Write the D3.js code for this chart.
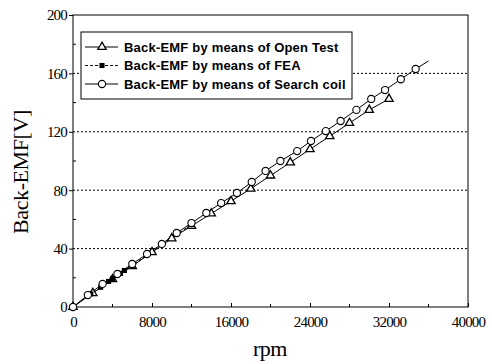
<!DOCTYPE html>
<html><head><meta charset="utf-8">
<script src="https://cdn.jsdelivr.net/npm/d3@7"></script>
<style>html,body{margin:0;padding:0;background:#fff;}svg{display:block;}</style>
</head><body>
<script>
const xTicks = [0, 8000, 16000, 24000, 32000, 40000];
const yTicks = [0, 40, 80, 120, 160, 200];
const gridValues = [40, 80, 120, 160];
const seriesNames = ["Back-EMF by means of Open Test", "Back-EMF by means of FEA", "Back-EMF by means of Search coil"];
const openTest = [[0,0],[2000,9.5],[4000,19],[6000,28],[8000,37.5],[10000,47],[12000,55.5],[14000,64],[16000,72.5],[18000,81],[20000,90],[22000,99],[24000,108],[26000,117],[28000,126],[30000,135],[32000,142.5]];
const fea = [[0,0],[1800,9],[2800,13.5],[3600,17.5],[4000,19.5],[4800,23],[5200,25],[6000,28.5],[12000,56.5]];
const searchCoil = [[0,0],[1500,8.2],[3000,15.8],[4500,22.6],[6000,29.5],[7500,36.3],[9000,43.2],[10500,50.7],[12000,57.5],[13500,64.4],[15000,71.2],[16600,78.1],[18100,85.6],[19500,93.2],[21000,100],[22700,106.8],[24100,113.7],[25600,120.5],[27100,127.4],[28700,135],[30200,142.5],[31600,148.6],[33200,156],[34700,163]];
const searchCoilLineEnd = [36000,168.5];

const W = 492, H = 364;
const svg = d3.select("body").append("svg").attr("width", W).attr("height", H);
const x = d3.scaleLinear().domain([0, 40000]).range([73, 468]);
const y = d3.scaleLinear().domain([0, 200]).range([307, 15]);
const serif = "'Liberation Serif','Times New Roman',serif";
const sans = "'Liberation Sans',Arial,sans-serif";

// grid
svg.append("g").selectAll("line").data(gridValues).join("line")
  .attr("x1", x(0)).attr("x2", x(40000)).attr("y1", d=>y(d)).attr("y2", d=>y(d))
  .attr("stroke", "#000").attr("stroke-width", 1).attr("stroke-dasharray", "2,2");

// frame
svg.append("rect").attr("x", x(0)).attr("y", y(200)).attr("width", x(40000)-x(0)).attr("height", y(0)-y(200))
  .attr("fill", "none").attr("stroke", "#000").attr("stroke-width", 1);

// axes
const xAxis = d3.axisBottom(x).tickValues(xTicks).tickSize(-4).tickPadding(9).tickFormat(d3.format("d"));
const gx = svg.append("g").attr("transform", `translate(0,${y(0)})`).call(xAxis);
const yAxis = d3.axisLeft(y).tickValues(yTicks).tickSize(4).tickPadding(2).tickFormat(d3.format("d"));
const gy = svg.append("g").attr("transform", `translate(${x(0)},0)`).call(yAxis);
[gx, gy].forEach(g => {
  g.select(".domain").remove();
  g.selectAll("line").attr("stroke", "#000");
  g.selectAll("text").attr("font-family", serif).attr("font-size", 15).attr("fill", "#000").attr("letter-spacing", "-0.8px");
});
// minor ticks
const xMinor = d3.range(4000, 40000, 8000);
svg.append("g").selectAll("line").data(xMinor).join("line")
  .attr("x1", d=>x(d)).attr("x2", d=>x(d)).attr("y1", y(0)).attr("y2", y(0)-3).attr("stroke", "#000");
const yMinor = d3.range(20, 200, 40);
svg.append("g").selectAll("line").data(yMinor).join("line")
  .attr("x1", x(0)).attr("x2", x(0)+3).attr("y1", d=>y(d)).attr("y2", d=>y(d)).attr("stroke", "#000");

// axis titles
svg.append("text").attr("x", 270).attr("y", 356).attr("text-anchor", "middle")
  .attr("font-family", serif).attr("font-size", 22).attr("letter-spacing", "-0.5px").text("rpm");
svg.append("text").attr("transform", "translate(28,172) rotate(-90)").attr("text-anchor", "middle")
  .attr("font-family", serif).attr("font-size", 22).attr("letter-spacing", "-0.4px").text("Back-EMF[V]");

// lines
const line = d3.line().x(d=>x(d[0])).y(d=>y(d[1]));
svg.append("path").datum(openTest).attr("d", line).attr("fill", "none").attr("stroke", "#000").attr("stroke-width", 1);
svg.append("path").datum(fea).attr("d", line).attr("fill", "none").attr("stroke", "#000").attr("stroke-width", 1).attr("stroke-dasharray", "3,2");
svg.append("path").datum(searchCoil.concat([searchCoilLineEnd])).attr("d", line).attr("fill", "none").attr("stroke", "#000").attr("stroke-width", 1);

const tri = d3.symbol().type(d3.symbolTriangle).size(30);
const sq = d3.symbol().type(d3.symbolSquare).size(26);
function drawTri(g, data){ g.selectAll("path.t").data(data).join("path").attr("class","t").attr("d", tri)
  .attr("transform", d=>`translate(${x(d[0])},${y(d[1])})`).attr("fill", "#fff").attr("stroke", "#000").attr("stroke-width", 1.3); }
function drawSq(g, data){ g.selectAll("path.s").data(data).join("path").attr("class","s").attr("d", sq)
  .attr("transform", d=>`translate(${x(d[0])},${y(d[1])})`).attr("fill", "#000"); }
function drawCirc(g, data){ g.selectAll("circle").data(data).join("circle")
  .attr("cx", d=>x(d[0])).attr("cy", d=>y(d[1])).attr("r", 3.6).attr("fill", "#fff").attr("stroke", "#000").attr("stroke-width", 1.1); }
drawTri(svg.append("g"), openTest);
drawSq(svg.append("g"), fea);
drawCirc(svg.append("g"), searchCoil);

// legend
const lg = svg.append("g");
lg.append("rect").attr("x", 81).attr("y", 32).attr("width", 271).attr("height", 67).attr("fill", "#fff").attr("stroke", "#000").attr("stroke-width", 1);
const rowsY = [47, 65.5, 84];
rowsY.forEach((ry, i) => {
  lg.append("line").attr("x1", 85).attr("x2", 118).attr("y1", ry).attr("y2", ry).attr("stroke", "#000")
    .attr("stroke-dasharray", i === 1 ? "3,2" : null);
  const m = lg.append("g").attr("transform", `translate(${102},${ry})`);
  if (i === 0) m.append("path").attr("d", tri).attr("fill", "#fff").attr("stroke", "#000").attr("stroke-width", 1.3);
  if (i === 1) m.append("path").attr("d", sq).attr("fill", "#000");
  if (i === 2) m.append("circle").attr("r", 3.6).attr("fill", "#fff").attr("stroke", "#000").attr("stroke-width", 1.1);
  lg.append("text").attr("x", 124).attr("y", ry + 4.5).attr("font-family", sans).attr("font-weight", "bold")
    .attr("font-size", 13).attr("letter-spacing", "0.2px").text(seriesNames[i]);
});
</script>
</body></html>
